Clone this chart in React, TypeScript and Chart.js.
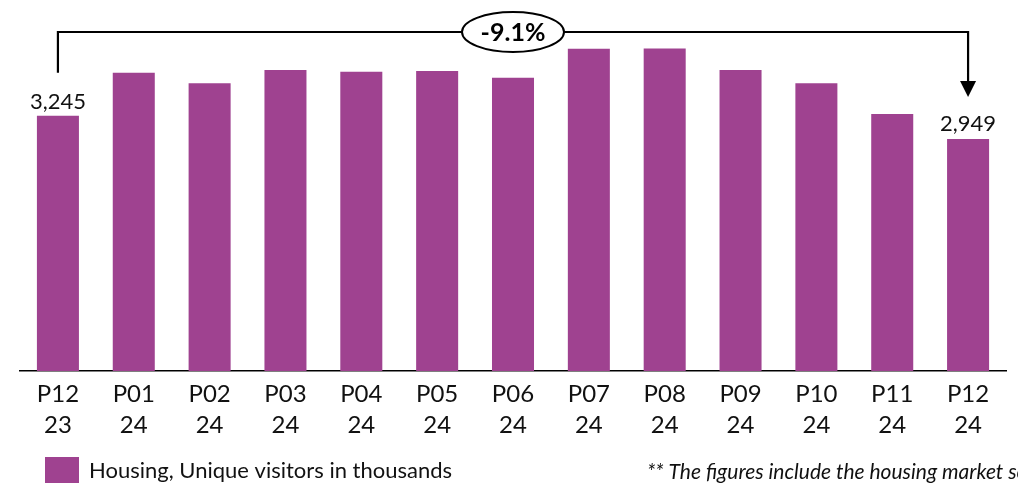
import React, { useEffect, useRef } from "react";
import { Chart, registerables } from "chart.js";

Chart.register(...registerables);

const periods = ["P12", "P01", "P02", "P03", "P04", "P05", "P06", "P07", "P08", "P09", "P10", "P11", "P12"];
const years = ["23", "24", "24", "24", "24", "24", "24", "24", "24", "24", "24", "24", "24"];
const visitors = [3245, 3791, 3657, 3826, 3804, 3813, 3728, 4097, 4101, 3826, 3657, 3266, 2949];
const seriesName = "Housing, Unique visitors in thousands";
const changeLabel = "-9.1%";
const footnote = "** The figures include the housing market segment";

const BAR_COLOR = "#9F4290";
const FONT = "Lato, 'Open Sans', sans-serif";

const fmt = (v: number) => v.toLocaleString("en-US");

const annotationPlugin = {
  id: "annot",
  afterDraw(chart: any) {
    const ctx = chart.ctx;
    const meta = chart.getDatasetMeta(0);
    const first = meta.data[0];
    const last = meta.data[meta.data.length - 1];
    ctx.save();
    // value labels on first and last bars
    ctx.fillStyle = "#111";
    ctx.font = `22px ${FONT}`;
    ctx.textAlign = "center";
    ctx.textBaseline = "alphabetic";
    ctx.fillText(fmt(visitors[0]), first.x, first.y - 7);
    ctx.fillText(fmt(visitors[visitors.length - 1]), last.x, last.y - 8);

    // bracket
    const topY = 32;
    const leftStart = first.y - 43;
    const arrowTip = last.y - 42;
    ctx.strokeStyle = "#000";
    ctx.lineWidth = 2.2;
    ctx.beginPath();
    ctx.moveTo(first.x, leftStart);
    ctx.lineTo(first.x, topY);
    ctx.lineTo(last.x, topY);
    ctx.lineTo(last.x, arrowTip - 14);
    ctx.stroke();
    ctx.fillStyle = "#000";
    ctx.beginPath();
    ctx.moveTo(last.x - 8, arrowTip - 16);
    ctx.lineTo(last.x + 8, arrowTip - 16);
    ctx.lineTo(last.x, arrowTip);
    ctx.closePath();
    ctx.fill();

    // ellipse with change
    const cx = (first.x + last.x) / 2;
    ctx.beginPath();
    ctx.ellipse(cx, topY, 51, 20, 0, 0, Math.PI * 2);
    ctx.fillStyle = "#fff";
    ctx.fill();
    ctx.lineWidth = 2;
    ctx.stroke();
    ctx.fillStyle = "#000";
    ctx.font = `bold 25px ${FONT}`;
    ctx.textBaseline = "middle";
    ctx.fillText(changeLabel, cx, topY + 1);

    // legend
    ctx.fillStyle = BAR_COLOR;
    ctx.fillRect(45, 457, 34, 26);
    ctx.fillStyle = "#111";
    ctx.textAlign = "left";
    ctx.font = `22px ${FONT}`;
    ctx.fillText(seriesName, 89, 471);

    // footnote
    ctx.font = `italic 21px ${FONT}`;
    ctx.fillText(footnote, 647, 472);
    ctx.restore();
  },
};

export default function App() {
  const ref = useRef<HTMLCanvasElement | null>(null);
  useEffect(() => {
    if (!ref.current) return;
    const chart = new Chart(ref.current, {
      type: "bar",
      data: {
        labels: periods.map((p, i) => [p, years[i]]),
        datasets: [
          {
            label: seriesName,
            data: visitors,
            backgroundColor: BAR_COLOR,
            categoryPercentage: 1,
            barPercentage: 0.554,
          },
        ],
      },
      options: {
        animation: false,
        responsive: false,
        devicePixelRatio: 1,
        layout: { padding: { left: 20, right: 12, top: 17, bottom: 0 } },
        plugins: { legend: { display: false }, tooltip: { enabled: false } },
        scales: {
          x: {
            grid: { display: false, drawTicks: false },
            border: { display: true, color: "#000", width: 1.5 },
            ticks: {
              color: "#111",
              font: { family: FONT, size: 24, lineHeight: 31 / 24 },
              padding: 8,
              maxRotation: 0,
              autoSkip: false,
            },
            afterFit: (scale: any) => {
              scale.height = 113;
            },
          },
          y: {
            display: false,
            min: 0,
            max: 4500,
          },
        },
      },
      plugins: [annotationPlugin],
    });
    return () => chart.destroy();
  }, []);
  return (
    <div style={{ position: "absolute", left: 0, top: 0, width: 1018, height: 484, background: "#fff" }}>
      <canvas ref={ref} width={1018} height={484} />
    </div>
  );
}
